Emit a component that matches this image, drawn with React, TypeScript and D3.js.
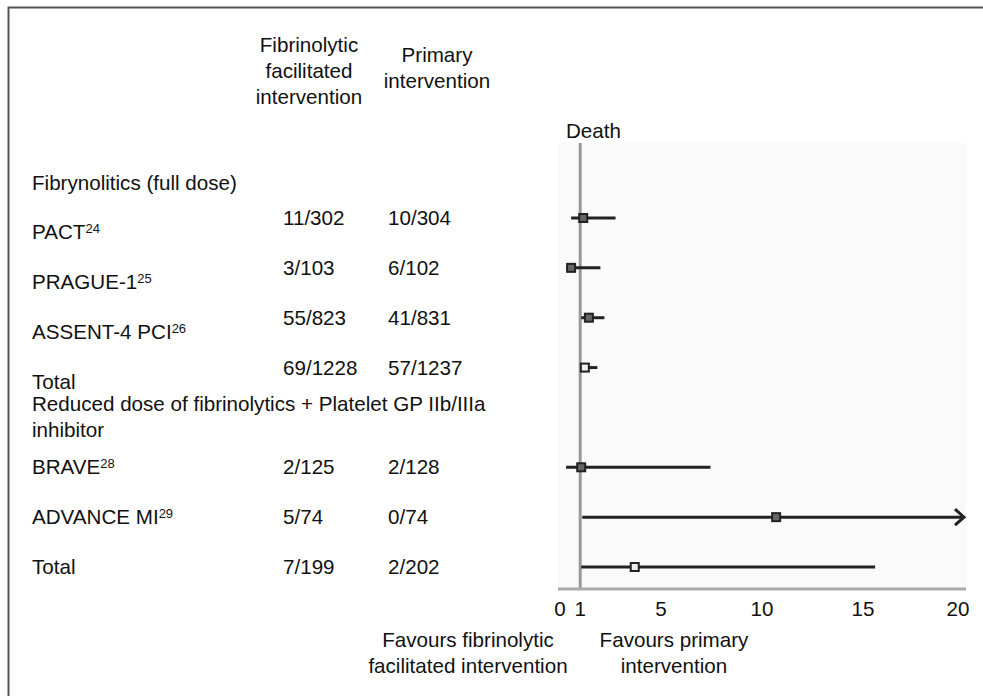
import React from "react";
import * as d3 from "d3";

const studies = ["PACT", "PRAGUE-1", "ASSENT-4 PCI", "Total", "BRAVE", "ADVANCE MI", "Total"];
const refs = ["24", "25", "26", "", "28", "29", ""];
const groups = [1, 1, 1, 1, 2, 2, 2];
const facilitated = ["11/302", "3/103", "55/823", "69/1228", "2/125", "5/74", "7/199"];
const primary = ["10/304", "6/102", "41/831", "57/1237", "2/128", "0/74", "2/202"];
const estimate = [1.15, 0.55, 1.43, 1.23, 1.05, 10.7, 3.7];
const lower = [0.55, 0.3, 1.05, 1.08, 0.3, 1.1, 1.05];
const upper = [2.75, 2.0, 2.2, 1.85, 7.45, 20, 15.6];
const isTotal = [false, false, false, true, false, false, true];
const xTicks = [0, 1, 5, 10, 15, 20];

const groupTitles = ["Fibrynolitics (full dose)", "Reduced dose of fibrinolytics + Platelet GP IIb/IIIa", "inhibitor"];
const colHeadFac = ["Fibrinolytic", "facilitated", "intervention"];
const colHeadPri = ["Primary", "intervention"];
const favLeft = ["Favours fibrinolytic", "facilitated intervention"];
const favRight = ["Favours primary", "intervention"];

const FONT = "'Liberation Sans', Arial, Helvetica, sans-serif";

export default function App() {
  const x = d3.scaleLinear().domain([0, 20]).range([560, 964]);
  const y = d3.scaleLinear().domain([0, 7]).range([218, 567]);
  const rowOf = (i: number) => i + (groups[i] - 1);

  const plotLeft = 558;
  const plotRight = 966;
  const plotTop = 143;
  const plotBottom = 589;
  const txt = { fontFamily: FONT, fontSize: 20.6, fill: "#111" } as const;

  return (
    <svg
      width={983}
      height={696}
      style={{ position: "absolute", left: 0, top: 0, display: "block", background: "#fff" }}
    >
      {/* frame */}
      <rect x={8.5} y={7.5} width={1000} height={720} fill="none" stroke="#555" strokeWidth={2} />

      {/* column headers */}
      {colHeadFac.map((t, i) => (
        <text key={"f" + i} x={309} y={52 + i * 26} textAnchor="middle" {...txt}>{t}</text>
      ))}
      {colHeadPri.map((t, i) => (
        <text key={"p" + i} x={437} y={62 + i * 26} textAnchor="middle" {...txt}>{t}</text>
      ))}
      <text x={566} y={138} {...txt}>Death</text>

      {/* group titles */}
      <text x={32} y={190} {...txt}>{groupTitles[0]}</text>
      <text x={32} y={411} {...txt}>{groupTitles[1]}</text>
      <text x={32} y={437} {...txt}>{groupTitles[2]}</text>

      {/* plot background */}
      <rect x={plotLeft} y={plotTop} width={plotRight - plotLeft} height={plotBottom - plotTop} fill="#fafafa" />

      {/* rows */}
      {studies.map((s, i) => {
        const cy = y(rowOf(i));
        const nameY = groups[i] === 1 ? cy + 21 : cy + 7;
        const numY = cy + 7;
        return (
          <g key={"r" + i}>
            <text x={32} y={nameY} {...txt}>
              {s}
              {refs[i] && (
                <tspan fontSize={13} dy={-6}>{refs[i]}</tspan>
              )}
            </text>
            <text x={283} y={numY} {...txt}>{facilitated[i]}</text>
            <text x={388} y={numY} {...txt}>{primary[i]}</text>
          </g>
        );
      })}

      {/* reference line at 1 */}
      <line x1={x(1)} x2={x(1)} y1={plotTop} y2={plotBottom} stroke="#999" strokeWidth={3} />
      {/* x axis */}
      <line x1={plotLeft} x2={plotRight} y1={plotBottom} y2={plotBottom} stroke="#aaa" strokeWidth={3} />

      {/* CIs and points */}
      {studies.map((s, i) => {
        const cy = y(rowOf(i));
        const x1 = x(lower[i]);
        const x2 = x(upper[i]);
        const cx = x(estimate[i]);
        const open = upper[i] >= 20;
        return (
          <g key={"m" + i}>
            <line x1={x1} x2={x2} y1={cy} y2={cy} stroke="#222" strokeWidth={3} />
            {open && (
              <path
                d={`M${x2 - 9},${cy - 8} L${x2},${cy} L${x2 - 9},${cy + 8}`}
                fill="none"
                stroke="#222"
                strokeWidth={3}
              />
            )}
            <rect
              x={cx - 4}
              y={cy - 4}
              width={8}
              height={8}
              fill={isTotal[i] ? "#eee" : "#666"}
              stroke="#222"
              strokeWidth={2}
            />
          </g>
        );
      })}

      {/* tick labels */}
      {xTicks.map((t) => (
        <text key={"t" + t} x={t === 20 ? x(t) - 6 : x(t)} y={616} textAnchor="middle" {...txt}>{t}</text>
      ))}

      {/* favours labels */}
      {favLeft.map((t, i) => (
        <text key={"fl" + i} x={468} y={647 + i * 26} textAnchor="middle" {...txt}>{t}</text>
      ))}
      {favRight.map((t, i) => (
        <text key={"fr" + i} x={674} y={647 + i * 26} textAnchor="middle" {...txt}>{t}</text>
      ))}
    </svg>
  );
}
